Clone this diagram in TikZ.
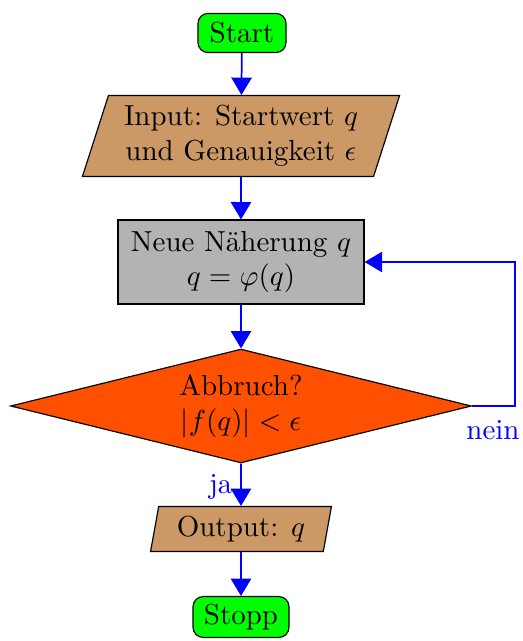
\documentclass[tikz,border=0pt]{standalone}
\usetikzlibrary{shapes.geometric,arrows.meta}
\definecolor{brownio}{RGB}{204,153,102}
\definecolor{procgray}{RGB}{179,179,179}
\definecolor{decor}{RGB}{255,80,0}
\definecolor{termgreen}{RGB}{0,255,0}
\begin{document}
\begin{tikzpicture}[x=0.345pt,y=-0.345pt,
  every node/.style={font=\normalsize},
  term/.style={draw=black,thin,fill=termgreen,rounded corners=3.5pt,inner sep=0pt,align=center},
  iobox/.style={draw=black,thin,fill=brownio,shape=trapezium,trapezium stretches body=true,inner sep=0pt,align=center},
  procbox/.style={draw=black,thin,fill=procgray,inner sep=0pt,align=center,minimum width=84.9pt,minimum height=29pt},
  decbox/.style={draw=black,thin,fill=decor,shape=diamond,aspect=4.04,inner sep=0pt,align=center,minimum width=159pt,minimum height=39.3pt},
  flow/.style={draw=blue,semithick,-{Triangle[width=7pt,length=6pt]}},
  loopflow/.style={draw=blue,thin,-{Triangle[width=7pt,length=6pt]}},
  lbl/.style={text=blue,inner sep=0pt}]
\useasboundingbox (0,0) rectangle (523,641);
\node[term,minimum width=30.4pt,minimum height=13.5pt] (start) at (242,33) {Start};
\node[iobox,trapezium left angle=67,trapezium right angle=113,minimum width=109.4pt,minimum height=27.9pt] (input) at (241,136) {Input: Startwert $q$\\und Genauigkeit $\epsilon$};
\node[procbox] (proc) at (241,262) {Neue N\"aherung $q$\\$q=\varphi(q)$};
\node[decbox] (dec) at (241,406) {Abbruch?\\$|f(q)|<\epsilon$};
\node[iobox,trapezium left angle=72.7,trapezium right angle=107.3,minimum width=62.4pt,minimum height=15.5pt] (output) at (241,529) {Output: $q$};
\node[term,minimum width=33.1pt,minimum height=14.1pt] (stopp) at (241,617) {Stopp};
\coordinate (loopc) at (515,406);
\draw[flow] (start) -- (input);
\draw[flow] (input) -- (proc);
\draw[flow] (proc) -- (dec);
\draw[flow] (dec) -- (output);
\draw[flow] (output) -- (stopp);
\draw[loopflow] (dec.east) -- (loopc) |- (proc.east);
\node[lbl] (nein) at (493,430) {nein};
\node[lbl,anchor=east] (ja) at (233,487) {ja};
\end{tikzpicture}
\end{document}
